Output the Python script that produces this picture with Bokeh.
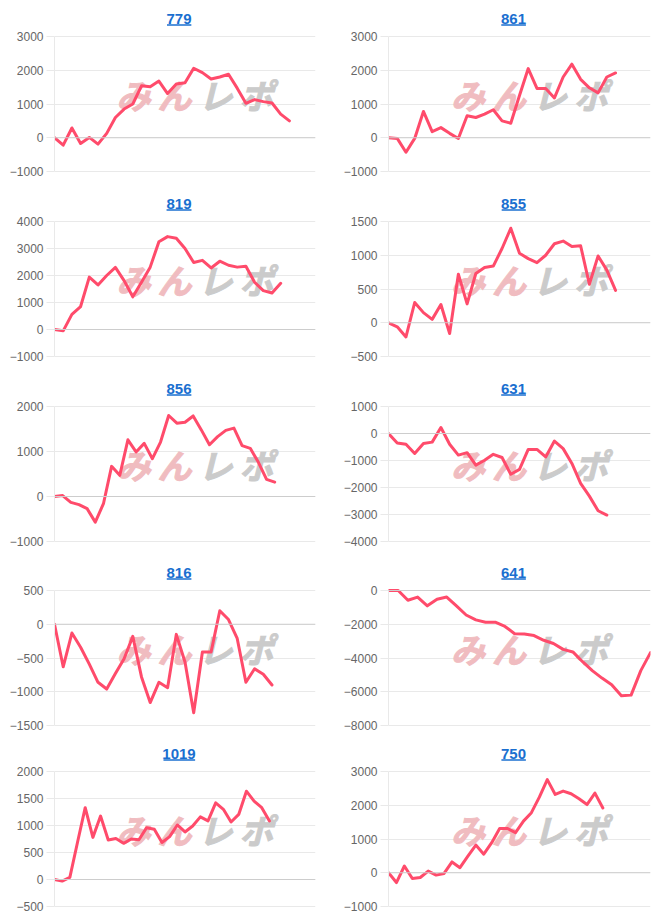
from bokeh.plotting import figure
from bokeh.layouts import gridplot
from bokeh.models import Range1d, FixedTicker, Span, Label, BoxAnnotation, BasicTickFormatter
from bokeh.embed import file_html
from bokeh.resources import INLINE

# ---------------- data ----------------
titles = ["779", "861", "819", "855", "856", "631", "816", "641", "1019", "750"]

s779 = [0, -220, 290, -170, 10, -190, 130, 600, 850, 1000, 1540, 1510, 1680, 1310,
        1590, 1630, 2060, 1930, 1740, 1800, 1880, 1470, 1020, 1130, 1070, 1030, 700, 500]
s861 = [0, -20, -430, -20, 780, 180, 300, 130, -20, 650, 600, 700, 830, 500, 430,
        1250, 2050, 1460, 1460, 1180, 1800, 2180, 1730, 1480, 1330, 1800, 1920]
s819 = [0, -50, 560, 850, 1940, 1650, 2000, 2300, 1810, 1210, 1750, 2310, 3250, 3440,
        3380, 3000, 2480, 2560, 2280, 2530, 2380, 2310, 2340, 1750, 1440, 1350, 1710]
s855 = [0, -60, -210, 300, 150, 50, 270, -160, 720, 280, 730, 820, 840, 1100, 1400,
        1030, 950, 890, 1000, 1170, 1210, 1130, 1140, 570, 990, 780, 480]
s856 = [0, 20, -130, -180, -270, -570, -160, 670, 470, 1260, 990, 1180, 840, 1210,
        1800, 1630, 1650, 1790, 1480, 1150, 1330, 1470, 1520, 1130, 1070, 760, 380, 320]
s631 = [0, -350, -400, -740, -370, -320, 220, -400, -800, -710, -1170, -990, -770,
        -890, -1510, -1330, -590, -590, -870, -280, -560, -1110, -1850, -2320, -2860, -3020]
s816 = [0, -630, -130, -340, -590, -860, -960, -730, -510, -180, -780, -1160, -860,
        -940, -150, -560, -1310, -410, -410, 200, 70, -210, -860, -660, -740, -900]
s641 = [0, 0, -580, -390, -910, -520, -390, -910, -1450, -1740, -1880, -1880, -2130,
        -2560, -2580, -2670, -2950, -3140, -3490, -3640, -4220, -4750, -5190, -5580,
        -6240, -6200, -4750, -3680]
s1019 = [0, -30, 40, 690, 1330, 780, 1175, 730, 760, 670, 750, 735, 960, 930, 685,
         795, 1010, 880, 990, 1160, 1085, 1420, 1300, 1065, 1205, 1635, 1450, 1330, 1085]
s750 = [0, -290, 200, -170, -140, 50, -70, -20, 320, 150, 490, 820, 550, 890, 1310,
        1310, 1190, 1530, 1780, 2240, 2760, 2320, 2420, 2340, 2190, 2020, 2360, 1920]

series = [s779, s861, s819, s855, s856, s631, s816, s641, s1019, s750]

x_slots = [30, 30, 30, 30, 32, 30, 30, 27, 34, 33]
y_min = [-1000, -1000, -1000, -500, -1000, -4000, -1500, -8000, -500, -1000]
y_max = [3000, 3000, 4000, 1500, 2000, 1000, 500, 0, 2000, 3000]
y_step = [1000, 1000, 1000, 500, 1000, 1000, 500, 2000, 500, 1000]

# ---------------- layout / style ----------------
PANEL_W = 333
row_h = [185, 185, 184, 181, 185]
border_left = [54, 55, 53, 47, 52, 52, 50, 49, 48, 52]
border_right = [11, 12, 18, 14, 14, 16, 18, 16, 10, 13]
TOP_PX = 36          # from panel top to the highest gridline
GRID_PX = 135        # from highest to lowest gridline
TITLE_PX = 18        # title centre above highest gridline
ULINE_PX = (10.8, 12.3)

LINE_COLOR = "#ff4b6b"
TITLE_COLOR = "#1a6fd0"
GRID_COLOR = "#e9e9e9"
ZERO_COLOR = "#cdcdcd"
LABEL_COLOR = "#666666"
FONT = "Liberation Sans"
TITLE_FS = 15

# watermark glyphs (logo), pixel offsets from the logo centre
WM_CHARS = ["み", "ん", "レ", "ポ"]
WM_COLORS = ["#f0bcc0", "#f0bcc0", "#cbcbcb", "#cbcbcb"]
WM_OFFSETS = [-62, -21, 20, 61]

figs = []
for i, (t, s) in enumerate(zip(titles, series)):
    h = row_h[i // 2]
    bl, br = border_left[i], border_right[i]
    frame_w = PANEL_W - bl - br
    ymin, ymax, step = y_min[i], y_max[i], y_step[i]
    xs = x_slots[i]
    ky = (ymax - ymin) / GRID_PX              # data units per pixel (y)
    kx = xs / frame_w                         # data units per pixel (x)
    bottom_px = h - TOP_PX - GRID_PX

    p = figure(width=PANEL_W, height=h, x_range=Range1d(0, xs),
               y_range=Range1d(ymin - bottom_px * ky, ymax + TOP_PX * ky),
               output_backend="svg", toolbar_location=None, title=None,
               min_border_left=bl, min_border_right=br,
               min_border_top=0, min_border_bottom=0)
    p.outline_line_color = None
    p.background_fill_color = "white"
    p.border_fill_color = "white"
    p.xaxis.visible = False
    p.xgrid.visible = False
    p.ygrid.grid_line_color = GRID_COLOR
    p.ygrid.grid_line_width = 1

    ya = p.yaxis[0]
    ya.ticker = FixedTicker(ticks=list(range(ymin, ymax + 1, step)))
    ya.formatter = BasicTickFormatter(use_scientific=False)
    ya.bounds = (ymin, ymax)
    ya.major_label_text_font = FONT
    ya.major_label_text_font_size = "12px"
    ya.major_label_text_color = LABEL_COLOR
    ya.axis_line_color = GRID_COLOR
    ya.major_tick_line_color = GRID_COLOR
    ya.major_tick_out = 8
    ya.major_tick_in = 0
    ya.minor_tick_line_color = None
    ya.major_label_standoff = 3

    p.add_layout(Span(location=0, dimension="width", line_color=ZERO_COLOR, line_width=1))

    # watermark logo
    wx = xs * 0.54
    wy = ymin + (ymax - ymin) * 0.57
    for ch, col, off in zip(WM_CHARS, WM_COLORS, WM_OFFSETS):
        p.add_layout(Label(x=wx, y=wy, text=ch, text_align="center", text_baseline="middle",
                           text_font="Noto Sans CJK JP", text_font_style="bold italic",
                           text_font_size="34px", text_color=col, text_outline_color=col,
                           x_offset=off, level="underlay"))

    p.line(x=list(range(len(s))), y=s, line_color=LINE_COLOR, line_width=3,
           line_join="round", line_cap="round")

    # title (blue underlined link-like text)
    p.add_layout(Label(x=xs / 2, y=ymax + TITLE_PX * ky,
                       text=t, text_align="center", text_baseline="middle",
                       text_font=FONT, text_font_style="bold",
                       text_font_size=f"{TITLE_FS}px", text_color=TITLE_COLOR, x_offset=-6))
    tw = len(t) * 0.556 * TITLE_FS
    p.add_layout(BoxAnnotation(left=xs / 2 + (-6 - tw / 2) * kx,
                               right=xs / 2 + (-6 + tw / 2) * kx,
                               bottom=ymax + ULINE_PX[0] * ky, top=ymax + ULINE_PX[1] * ky,
                               fill_color=TITLE_COLOR, fill_alpha=1.0, line_color=None))
    figs.append(p)

grid = gridplot([figs[j:j + 2] for j in range(0, 10, 2)], toolbar_location=None)

open("out.html", "w").write(file_html(grid, INLINE))
